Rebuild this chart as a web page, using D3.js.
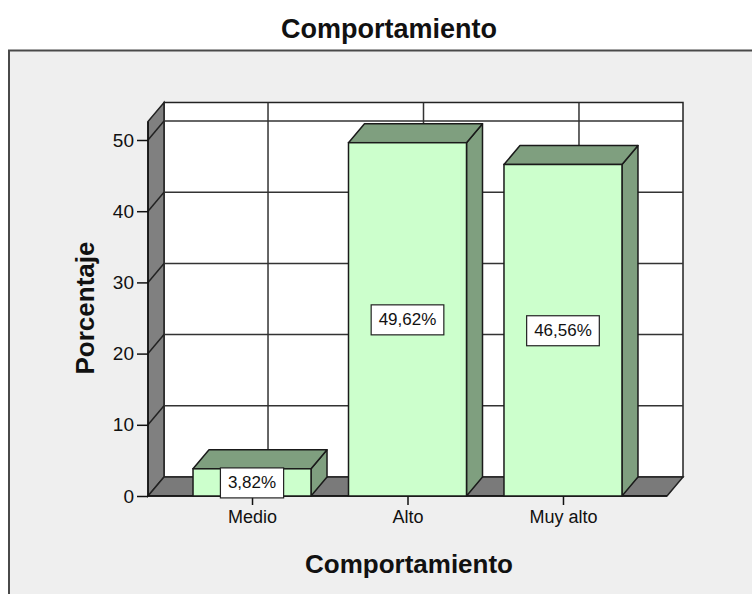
<!DOCTYPE html>
<html>
<head>
<meta charset="utf-8">
<script src="https://cdn.jsdelivr.net/npm/d3@7"></script>
<style>
  html, body { margin: 0; padding: 0; background: #ffffff; }
  svg { display: block; font-family: "Liberation Sans", Arial, sans-serif; }
</style>
</head>
<body>
<svg id="chart" width="752" height="594"></svg>
<script>
// Data
const categories = ["Medio", "Alto", "Muy alto"];
const percentages = [3.82, 49.62, 46.56];
const valueLabels = ["3,82%", "49,62%", "46,56%"];
const yTicks = [0, 10, 20, 30, 40, 50];

const chartTitle = "Comportamiento";
const xTitle = "Comportamiento";
const yTitle = "Porcentaje";

const svg = d3.select("#chart");

// Layout of the 3D box
const plotLeft = 148, plotRight = 667, plotBottom = 496;
const depthX = 16, depthY = 19;
const yMax = 52.6;

const x = d3.scalePoint().domain(categories).range([plotLeft, plotRight]).padding(0.669);
const y = d3.scaleLinear().domain([0, yMax]).range([plotBottom, plotBottom - 7.12 * yMax]);
const barWidth = 118;
const wallTop = y(yMax);

// Panel background with frame (extends past the window on right and bottom)
svg.append("rect")
  .attr("x", 9).attr("y", 50.5).attr("width", 800).attr("height", 600)
  .attr("fill", "#efefef").attr("stroke", "#4a4a4a").attr("stroke-width", 2);

// Title
svg.append("text")
  .attr("x", 389).attr("y", 38)
  .attr("text-anchor", "middle")
  .attr("font-size", 27).attr("font-weight", "bold").attr("fill", "#111")
  .text(chartTitle);

const g = svg.append("g");

// Back wall
g.append("rect")
  .attr("x", plotLeft + depthX).attr("y", wallTop - depthY)
  .attr("width", plotRight - plotLeft).attr("height", plotBottom - wallTop)
  .attr("fill", "#ffffff").attr("stroke", "#222").attr("stroke-width", 1.5);

// Side wall
g.append("path")
  .attr("d", `M${plotLeft},${plotBottom} L${plotLeft},${wallTop} L${plotLeft + depthX},${wallTop - depthY} L${plotLeft + depthX},${plotBottom - depthY} Z`)
  .attr("fill", "#808080").attr("stroke", "#222").attr("stroke-width", 1.5);

// Floor
g.append("path")
  .attr("d", `M${plotLeft},${plotBottom} L${plotRight},${plotBottom} L${plotRight + depthX},${plotBottom - depthY} L${plotLeft + depthX},${plotBottom - depthY} Z`)
  .attr("fill", "#7a7a7a").attr("stroke", "#222").attr("stroke-width", 1.5);

// Horizontal gridlines on back wall and side wall
const gridVals = yTicks.filter(v => v > 0);
g.selectAll(".hgrid").data(gridVals).enter().append("line")
  .attr("x1", plotLeft + depthX).attr("x2", plotRight + depthX)
  .attr("y1", d => y(d) - depthY).attr("y2", d => y(d) - depthY)
  .attr("stroke", "#333").attr("stroke-width", 1.5);
g.selectAll(".sgrid").data(gridVals).enter().append("line")
  .attr("x1", plotLeft).attr("x2", plotLeft + depthX)
  .attr("y1", d => y(d)).attr("y2", d => y(d) - depthY)
  .attr("stroke", "#222").attr("stroke-width", 1.5);

// Vertical gridlines on back wall
g.selectAll(".vgrid").data(categories).enter().append("line")
  .attr("x1", d => x(d) + depthX).attr("x2", d => x(d) + depthX)
  .attr("y1", wallTop - depthY).attr("y2", plotBottom - depthY)
  .attr("stroke", "#333").attr("stroke-width", 1.5);

// Y axis
g.append("line")
  .attr("x1", plotLeft).attr("x2", plotLeft).attr("y1", plotBottom).attr("y2", wallTop)
  .attr("stroke", "#111").attr("stroke-width", 1.5);
const yAxis = d3.axisLeft(y).tickValues(yTicks).tickSize(11).tickPadding(3).tickFormat(d3.format("d"));
const ya = svg.append("g").attr("transform", `translate(${plotLeft},0)`).call(yAxis);
ya.select(".domain").remove();
ya.selectAll("line").attr("stroke", "#111").attr("stroke-width", 1.5);
ya.selectAll("text").attr("font-size", 19).attr("fill", "#111")
  .attr("font-family", "Liberation Sans, Arial, sans-serif");

// X axis ticks and labels
const xAxis = d3.axisBottom(x).tickSize(9).tickPadding(5);
const xa = svg.append("g").attr("transform", `translate(0,${plotBottom})`).call(xAxis);
xa.select(".domain").remove();
xa.selectAll("line").attr("stroke", "#111").attr("stroke-width", 1.5);
xa.selectAll("text").attr("font-size", 18).attr("fill", "#111")
  .attr("font-family", "Liberation Sans, Arial, sans-serif");

// Floor front edge
g.append("line")
  .attr("x1", plotLeft).attr("x2", plotRight).attr("y1", plotBottom).attr("y2", plotBottom)
  .attr("stroke", "#111").attr("stroke-width", 1.5);

// 3D bars
const bars = svg.append("g").selectAll(".bar")
  .data(categories.map((c, i) => ({ c, v: percentages[i], label: valueLabels[i] })))
  .enter().append("g");

bars.each(function(d) {
  const gb = d3.select(this);
  const x0 = x(d.c) - barWidth / 2, x1 = x(d.c) + barWidth / 2;
  const yt = y(d.v), yb = y(0);
  // side face
  gb.append("path")
    .attr("d", `M${x1},${yb} L${x1},${yt} L${x1 + depthX},${yt - depthY} L${x1 + depthX},${yb - depthY} Z`)
    .attr("fill", "#7f9f7f").attr("stroke", "#1a1a1a").attr("stroke-width", 1.5).attr("stroke-linejoin", "round");
  // top face
  gb.append("path")
    .attr("d", `M${x0},${yt} L${x0 + depthX},${yt - depthY} L${x1 + depthX},${yt - depthY} L${x1},${yt} Z`)
    .attr("fill", "#7f9f7f").attr("stroke", "#1a1a1a").attr("stroke-width", 1.5).attr("stroke-linejoin", "round");
  // front face
  gb.append("rect")
    .attr("x", x0).attr("y", yt).attr("width", barWidth).attr("height", yb - yt)
    .attr("fill", "#ccffcc").attr("stroke", "#1a1a1a").attr("stroke-width", 1.5);
});

// Value labels
bars.each(function(d) {
  const gb = d3.select(this);
  const cx = x(d.c), cy = (y(d.v) + y(0)) / 2 + 0.5;
  const t = gb.append("text")
    .attr("x", cx).attr("y", cy)
    .attr("text-anchor", "middle").attr("dominant-baseline", "central")
    .attr("font-size", 17).attr("fill", "#111")
    .text(d.label);
  const bb = t.node().getBBox();
  gb.insert("rect", "text")
    .attr("x", bb.x - 7.5).attr("y", cy - 15)
    .attr("width", bb.width + 15).attr("height", 30)
    .attr("fill", "#ffffff").attr("stroke", "#222").attr("stroke-width", 1.2);
});

// Axis titles
svg.append("text")
  .attr("x", 409).attr("y", 573)
  .attr("text-anchor", "middle")
  .attr("font-size", 26).attr("font-weight", "bold").attr("fill", "#111")
  .text(xTitle);

svg.append("text")
  .attr("transform", "translate(94,308) rotate(-90)")
  .attr("text-anchor", "middle")
  .attr("font-size", 26).attr("font-weight", "bold").attr("fill", "#111")
  .text(yTitle);
</script>
</body>
</html>
